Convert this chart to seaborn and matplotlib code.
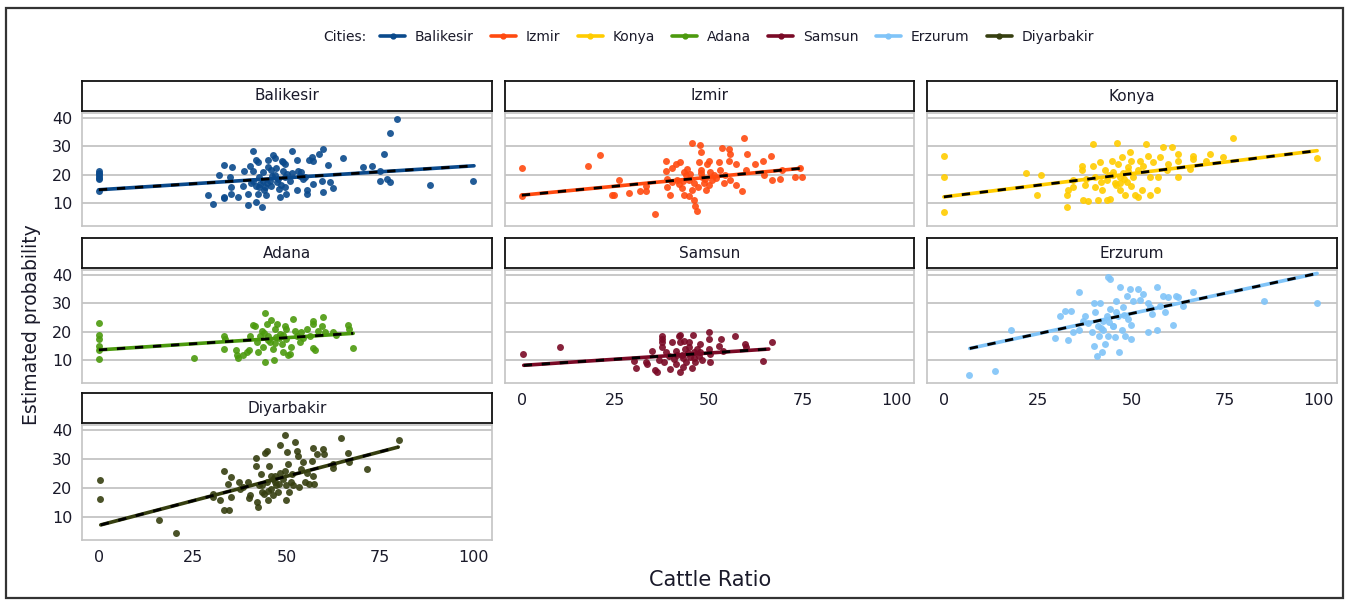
import matplotlib
matplotlib.use("Agg")
import matplotlib.pyplot as plt
import seaborn as sns
import pandas as pd
from matplotlib.lines import Line2D
from matplotlib.patches import Rectangle

cities = ["Balikesir", "Izmir", "Konya", "Adana", "Samsun", "Erzurum", "Diyarbakir"]
colors = ["#0b4a8c", "#ff4a10", "#ffcc00", "#4c9a0e", "#7a0a26", "#80c4f8", "#363f10"]
x_ticks = [0, 25, 50, 75, 100]
y_ticks = [10, 20, 30, 40]

# ---- points (Cattle Ratio, Estimated probability) ----
balikesir_x = [0, 0, 0, 0, 0, 0, 0, 29, 30.3, 32, 33.3, 33.3, 33.3, 34.9, 35.5, 35.3, 35.1, 37, 38.4, 38.6,
               39.7, 39.7, 41, 41.1, 41.1, 41.8, 42.3, 41.8, 42.7, 42.7, 42.4, 43.6, 43.8, 43.8, 44.2, 44.5,
               45.1, 45.1, 45.6, 46, 46.5, 46.9, 47.3, 47.8, 48.2, 48.7, 49.1, 49.6, 49.1, 49.6, 49.6, 49.8,
               51.4, 50.9, 52.7, 52.7, 53.1, 54, 54.5, 54.9, 55.4, 55.4, 56.1, 56.7, 57.2, 57.2, 58.8, 59.8,
               59.4, 59.8, 61.1, 61.6, 62.5, 65.2, 70.5, 72.7, 74.9, 74.9, 75.9, 77.6, 79.6, 76.8, 77.6,
               88.4, 99.8, 40.5, 43, 44.8, 46.2, 47.5, 48.5, 50.2, 44, 45.8, 47, 42, 48, 51.5, 53.5, 40.2]
balikesir_y = [21.5, 20.8, 20.2, 19.6, 19, 18.5, 14.5, 12.9, 9.8, 19.8, 23.4, 12.3, 11.8, 19.2, 22.9, 15.7, 13.4,
               12.1, 16, 21.3, 13.4, 9.4, 28.4, 21.3, 18, 25.2, 24.7, 10.6, 19.2, 15.7, 13.4, 8.9, 20.9, 18,
               15.7, 12.9, 25.2, 22.9, 18, 16, 27, 26.1, 22.6, 18.6, 12.3, 24.9, 24.4, 23.8, 21.5, 19.2, 15.7,
               13.4, 28.4, 18, 25.2, 14.6, 21.5, 20.9, 18.6, 19.2, 14.6, 13.4, 25.2, 26.3, 24.9, 16.9, 27.5,
               29.2, 18, 14, 23.4, 17.5, 15.5, 25.9, 22.9, 23.2, 18, 21.5, 27.5, 34.7, 39.7, 18.6, 17.5,
               16.3, 18, 17, 16.8, 17.2, 19.5, 17.4, 16.5, 20.2, 14.8, 21.8, 19.8, 16.2, 15, 20.5, 19.5, 23]

izmir_x = [0, 0, 17.7, 20.9, 24.2, 24.6, 25.9, 28.6, 31.6, 33.3, 33.3, 35.7, 38.4, 38.4, 38.8, 38.8, 39.7,
           40.2, 41.1, 42.4, 41.5, 42.8, 43.3, 43.3, 44.1, 44.6, 44.6, 45.5, 47.6, 47.8, 45.5, 46, 46.4, 46.9,
           47.3, 47.8, 48.2, 48.7, 49.1, 49.5, 50, 50.2, 50.8, 51.3, 52.6, 53, 53.5, 53.9, 54.4, 55.3, 55.5,
           55.3, 55.7, 57.1, 57.1, 58.8, 59.3, 60.2, 59.8, 62.4, 64.4, 66.6, 64.6, 66.8, 69, 69.5, 73, 74.8,
           74.4, 40, 42, 44, 46, 48, 50, 52, 45, 47, 49, 43]
izmir_y = [22.5, 12.7, 23, 27.1, 13, 13, 18.2, 13.6, 14.2, 14.2, 16.1, 6.2, 25, 21.4, 18.7, 15.9, 13, 22.5,
           23.9, 24.4, 18.2, 15.3, 21, 13, 22.2, 18.2, 12.5, 31.3, 30.5, 27.9, 14.8, 11.3, 9.1, 7.3, 24.4,
           21.6, 19.3, 17, 14.8, 23.9, 25, 21, 18.2, 19.9, 24.4, 21.6, 29.6, 17, 19.9, 29, 27.3, 25, 18.2,
           23.9, 16.5, 14.2, 32.8, 27.5, 21.6, 23.9, 25, 26.7, 19.9, 18.2, 18.4, 21.8, 19.3, 19.3, 22.5,
           17.5, 16.8, 19.8, 17.2, 20.5, 16.5, 19, 20.2, 15.8, 18.5, 17.8]

konya_x = [0, 0, 0, 22, 24.7, 26, 32.7, 32.7, 33.2, 34.5, 34.5, 36.7, 36.7, 37.2, 38.5, 37.6, 38, 39.8, 39.8,
           40.3, 40.3, 41.2, 41.6, 42.1, 43, 43.4, 43.4, 44.3, 44.7, 45.2, 45.6, 46.2, 46.5, 46.9, 46.9,
           47.4, 47.8, 48.3, 48.7, 49.1, 49.6, 50, 50.5, 50.9, 51.8, 51.8, 52.3, 52.7, 53.2, 53.9, 54.5,
           55, 55, 55.8, 56.7, 57.1, 57.6, 58.5, 59.4, 59.8, 60.7, 62.5, 62.5, 62.5, 65.6, 66.5, 66.5, 70,
           70.9, 74.5, 77.2, 99.6, 42, 44, 46, 48, 50, 45, 47, 49]
konya_y = [26.8, 19.1, 7.1, 20.5, 13, 19.9, 8.7, 13, 14.7, 18.2, 15.9, 23.3, 21.6, 11.1, 10.7, 16.4, 18.7,
           30.8, 23, 19.3, 15.9, 11.1, 24.5, 14.7, 21.6, 18.2, 11.3, 11.5, 25, 21, 17, 31.3, 23.9, 19.3, 14.7,
           26.2, 20.5, 13, 17.6, 22.7, 27.9, 25, 19.3, 13, 12.4, 21.8, 25, 14.7, 23.3, 30.8, 26.8, 19.3, 13,
           24.5, 14.7, 19.3, 26.4, 29.9, 21.6, 23.9, 29.9, 27.3, 25, 19.1, 22.2, 26.8, 25.6, 25, 27.3, 26.4,
           32.8, 26, 17.5, 20, 16.5, 18.5, 16.2, 19.8, 17.2, 21.2]

adana_x = [0, 0, 0, 0, 0, 0, 25.3, 33.3, 33.3, 33.6, 36.5, 36.7, 37.1, 38.3, 39.4, 40.1, 40.3, 41, 41.6,
           42.2, 42.5, 42.9, 43.4, 43.8, 44.3, 44.3, 44.7, 45.1, 45.6, 46, 46.3, 46.6, 46.9, 47.3, 47.5,
           48.2, 48.7, 49.1, 49.6, 50, 50, 50.5, 50.9, 51.1, 51.8, 52.3, 52.7, 53.6, 54, 54.5, 55.4, 56.3,
           57, 57, 57.2, 57.6, 58.5, 59.4, 59.8, 60.3, 62.4, 63.2, 66.5, 66.8, 67.8, 45, 47, 49, 44, 48]
adana_y = [23.2, 18.9, 17.5, 15.2, 13.5, 10.4, 10.9, 18.6, 13.9, 17.5, 13.5, 11.8, 10.7, 11.8, 13, 13.5,
           18.6, 22.3, 22, 16.4, 13, 18.6, 20.3, 14.7, 9.4, 26.8, 22.9, 18.6, 16.4, 24.3, 14.1, 10.1, 20.9,
           18.1, 22.9, 19.2, 15.8, 13, 22, 20.9, 17.5, 11.8, 12.4, 14.7, 24.5, 20.3, 18.6, 16.4, 19.8, 17.7,
           20.9, 18.6, 22.9, 23.7, 14.3, 13.5, 20.3, 22, 25.4, 19.8, 20, 18.9, 22.3, 21.1, 14.3, 17, 16, 19,
           19.5, 17.8]

samsun_x = [0.2, 10.2, 29.9, 30.4, 33.3, 33.5, 34.8, 35.7, 36.2, 36.6, 37.5, 37.5, 37.5, 37.5, 38, 38.4,
            39.3, 39.7, 40.2, 40.6, 41.1, 41.3, 41.9, 42.2, 42.4, 42.4, 42.8, 43.1, 43.4, 43.7, 44, 44.6,
            44.8, 45, 45.5, 45.7, 45.9, 46.4, 46.8, 47.3, 47.7, 48.1, 49.9, 49.9, 49.9, 50.2, 50.4, 52.6,
            53.2, 53.8, 57, 59.7, 59.9, 64.4, 66.8, 43, 44.5, 46, 41.5, 47.5]
samsun_y = [12.3, 14.8, 9.7, 7.4, 9.4, 8.9, 13.4, 6.6, 6, 10, 18.6, 17.5, 16.3, 14.6, 9.4, 12.9, 11.7, 7.1,
            16.3, 10.6, 13.4, 8.9, 18.6, 16.3, 18.9, 6, 12, 7.7, 16.9, 14, 9.4, 16.3, 14.6, 11.1, 7.4, 18.9,
            12.9, 9.4, 14, 11.7, 15.7, 10.3, 19.8, 17.5, 14, 9.4, 12.3, 15.2, 17.5, 13.4, 18.4, 15.7, 14.6,
            9.9, 16.3, 11, 12.5, 10.8, 12, 13]

erzurum_x = [6.7, 13.6, 18, 29.6, 30.9, 32.3, 34, 33.2, 34.5, 36.1, 36.1, 37, 37.6, 38.5, 39.4, 39.9, 40,
             40.3, 40.7, 41.2, 41.4, 41.6, 42.1, 42.3, 42.5, 43, 43.4, 43.8, 44.4, 43.8, 44.3, 45, 45.6, 46,
             46.5, 46.8, 46.9, 47.4, 47.8, 48.3, 48.7, 49.1, 49.6, 49.8, 50, 50.3, 51.8, 52.3, 53.2, 54.5,
             55, 54.4, 55.4, 56.7, 56.9, 57.6, 58.3, 58.9, 59.8, 61.2, 62, 62.5, 63.8, 66.5, 85.3, 99.6,
             42, 44, 46, 48, 45]
erzurum_y = [4.8, 6.3, 20.5, 17.8, 25.7, 27.4, 27.4, 17, 19.9, 34.1, 20.5, 23.9, 25.7, 23.1, 19.9, 15.2, 30.3,
             26.9, 11.7, 22.2, 18.7, 30.3, 12.9, 20.5, 23.9, 15.8, 25.7, 39.1, 38.5, 18.7, 28, 22.2, 18.1,
             30.9, 25.7, 12.9, 35.6, 20.5, 28.6, 18.7, 32.7, 24.5, 35, 22.4, 17.6, 30.9, 35, 31.3, 33.3, 30.3,
             28.6, 19.9, 26.3, 20.5, 35.6, 29.2, 32.7, 26.9, 32.1, 22.4, 32.7, 32.1, 29.2, 34.1, 30.9, 30.3,
             21.5, 23.5, 27, 26, 22]

diyarbakir_x = [0.2, 0.2, 16.1, 20.5, 30.3, 30.3, 32.4, 33.3, 33.3, 34.7, 34.5, 35.1, 35.3, 37.3, 37.5,
                38.5, 39.7, 40.1, 40.3, 41.9, 42, 42.2, 42.5, 42.7, 43.1, 43.6, 44.2, 44.7, 44.9, 45.1, 45.4,
                45.8, 46, 46.5, 46.9, 47.3, 47.8, 48.2, 48.4, 49.1, 49.6, 49.6, 49.8, 50, 50.2, 50.5, 50.8,
                51.1, 51.4, 51.8, 52.3, 52.7, 53.1, 53.4, 54, 54.5, 54.9, 55.5, 56.1, 56.7, 57.2, 57.2, 57.4,
                58.1, 59.8, 60, 62.5, 62.5, 64.5, 66.5, 66.8, 71.6, 80.1, 43.5, 45, 46.5, 48, 44, 47]
diyarbakir_y = [22.6, 16.2, 9.1, 4.6, 18.1, 17, 15.8, 26, 12.4, 12.4, 21.5, 23.7, 17, 22, 19.8, 20.5, 22, 16.6,
                17.5, 30.5, 27.7, 15.3, 13.6, 20.9, 24.8, 18.6, 32.2, 22, 32.7, 15.8, 27.7, 19.8, 24.3, 17.5,
                22, 20.9, 18.6, 25.2, 34.7, 23.2, 38.4, 26, 20.9, 15.8, 32.4, 28.2, 18.6, 22, 24.8, 20.9, 35.8,
                32.7, 31, 20.3, 26.5, 28.8, 22, 25.2, 21.5, 29.4, 33.9, 24.3, 21.5, 31.6, 33.5, 31.6, 28.2,
                26.8, 37.2, 32.2, 29, 26.5, 36.7, 21, 19, 23, 21.5, 18, 24]

# ---- fitted lines (start/end) ----
fit_x0 = [0, 0, 0, 0, 0.5, 6.9, 0.5]
fit_x1 = [100, 74.5, 99.5, 67.8, 66, 99.5, 79.8]
fit_y0 = [14.8, 12.9, 12.3, 13.7, 8.3, 14.2, 7.3]
fit_y1 = [23.2, 22.3, 28.5, 19.5, 14.0, 40.5, 34.1]

point_x = [balikesir_x, izmir_x, konya_x, adana_x, samsun_x, erzurum_x, diyarbakir_x]
point_y = [balikesir_y, izmir_y, konya_y, adana_y, samsun_y, erzurum_y, diyarbakir_y]

frames = []
for city, xs, ys in zip(cities, point_x, point_y):
    frames.append(pd.DataFrame({"city": city, "ratio": xs, "prob": ys}))
df = pd.concat(frames, ignore_index=True)

sns.set_style("white")
plt.rcParams["font.family"] = ["DejaVu Sans"]

W, H = 1349, 600
fig = plt.figure(figsize=(W / 100, H / 100), dpi=100)
fig.patch.set_facecolor("white")

cols_px = [(82, 492), (505, 914), (927, 1337)]
rows_px = [(113, 226), (270, 383), (425, 540)]
text_col = "#1a1a2a"

for i, city in enumerate(cities):
    r, c = divmod(i, 3)
    x0, x1 = cols_px[c]
    y0, y1 = rows_px[r]
    ax = fig.add_axes([x0 / W, 1 - y1 / H, (x1 - x0) / W, (y1 - y0) / H])
    sub = df[df["city"] == city]
    sns.scatterplot(data=sub, x="ratio", y="prob", color=colors[i], s=25, alpha=0.9,
                    linewidth=0, ax=ax, zorder=3)
    sns.lineplot(x=[fit_x0[i], fit_x1[i]], y=[fit_y0[i], fit_y1[i]], color=colors[i], lw=2.6,
                 ax=ax, zorder=4)
    sns.lineplot(x=[fit_x0[i], fit_x1[i]], y=[fit_y0[i], fit_y1[i]], color="black", lw=2.0,
                 linestyle=(0, (3, 3.5)), ax=ax, zorder=5)
    ax.set_xlim(-4.5, 104.8)
    ax.set_ylim(2.1, 41.7)
    ax.set_xticks(x_ticks)
    ax.set_yticks(y_ticks)
    ax.set_xlabel("")
    ax.set_ylabel("")
    ax.yaxis.grid(True, color="#c4c4c4", lw=1.3)
    ax.xaxis.grid(False)
    ax.set_axisbelow(True)
    for sp in ax.spines.values():
        sp.set_color("#c4c4c4")
        sp.set_linewidth(1.2)
    ax.tick_params(axis="both", length=4, width=1, color="#9a9a9a", labelsize=11.5,
                   labelcolor=text_col, pad=3, direction="out")
    show_x = (i >= 4)
    show_y = (c == 0)
    if not show_x:
        ax.tick_params(axis="x", labelbottom=False, length=0)
    if not show_y:
        ax.tick_params(axis="y", labelleft=False, length=0)

    # strip
    sax = fig.add_axes([x0 / W, 1 - (y0 - 2) / H, (x1 - x0) / W, 30 / H])
    sax.set_xticks([])
    sax.set_yticks([])
    sax.set_facecolor("white")
    for sp in sax.spines.values():
        sp.set_color("#111111")
        sp.set_linewidth(1.3)
    sax.text(0.5, 0.5, city, ha="center", va="center", fontsize=11, color=text_col,
             transform=sax.transAxes)

# axis titles
fig.text(32 / W, 1 - 325 / H, "Estimated probability", rotation=90, ha="center", va="center",
         fontsize=13.5, color=text_col)
fig.text(710 / W, 1 - 580 / H, "Cattle Ratio", ha="center", va="center", fontsize=15,
         color=text_col)

# legend
fig.text(323 / W, 1 - 37 / H, "Cities:", ha="left", va="center", fontsize=10, color=text_col)
handles = [Line2D([0], [0], color=col, lw=2.6, marker="o", markersize=3.5) for col in colors]
fig.legend(handles, cities, loc="center left", bbox_to_anchor=(380 / W, 1 - 37 / H), ncol=7,
           frameon=False, fontsize=10, handlelength=1.8, handletextpad=0.7, columnspacing=1.25,
           borderpad=0, borderaxespad=0, labelcolor=text_col)

# outer frame
fig.patches.append(Rectangle((6 / W, 2 / H), 1337 / W, 590 / H, transform=fig.transFigure,
                             fill=False, edgecolor="#333333", lw=1.6))

fig.savefig("out.png", dpi=100, facecolor="white")
